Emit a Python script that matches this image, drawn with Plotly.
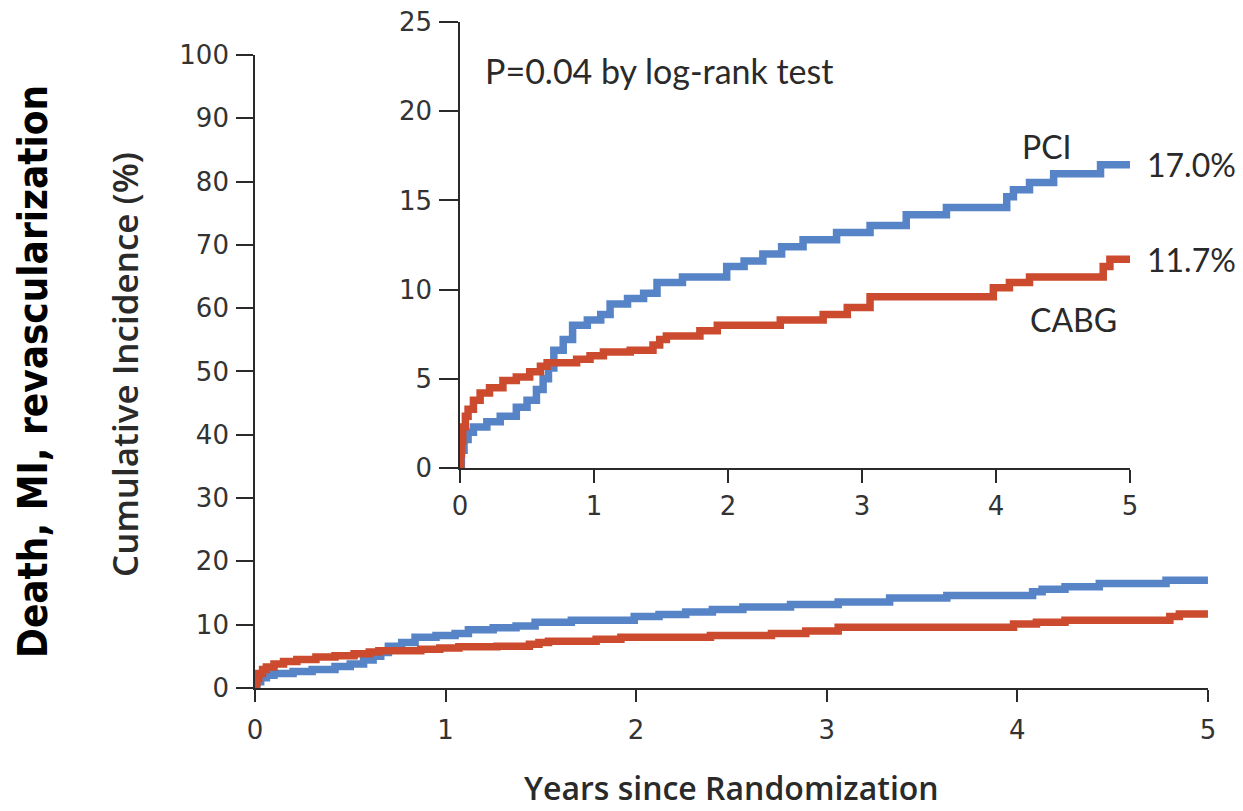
import plotly.graph_objects as go

# Kaplan-Meier style cumulative incidence, step knots (years, percent)
pci_years = [0, 0.01, 0.03, 0.06, 0.10, 0.20, 0.30, 0.42, 0.50, 0.57, 0.62, 0.66,
             0.70, 0.77, 0.84, 0.95, 1.05, 1.12, 1.25, 1.37, 1.47, 1.66, 1.99,
             2.12, 2.26, 2.40, 2.56, 2.81, 3.06, 3.33, 3.63, 4.08, 4.13, 4.25,
             4.43, 4.78, 5.0]
pci_pct = [0, 1.0, 1.6, 2.0, 2.3, 2.6, 2.9, 3.4, 3.8, 4.4, 5.0, 5.6,
           6.6, 7.2, 8.0, 8.3, 8.6, 9.2, 9.5, 9.8, 10.4, 10.7, 11.3,
           11.6, 12.0, 12.4, 12.8, 13.2, 13.6, 14.2, 14.6, 15.2, 15.6, 16.0,
           16.5, 17.0, 17.0]

cabg_years = [0, 0.005, 0.01, 0.02, 0.04, 0.06, 0.10, 0.15, 0.22, 0.32, 0.42,
              0.52, 0.60, 0.65, 0.87, 0.97, 1.07, 1.27, 1.44, 1.49, 1.54, 1.79,
              1.92, 2.39, 2.71, 2.89, 3.06, 3.98, 4.10, 4.25, 4.80, 4.85, 5.0]
cabg_pct = [0, 0.8, 1.5, 2.3, 2.9, 3.3, 3.8, 4.2, 4.5, 4.9, 5.1,
            5.4, 5.7, 5.9, 6.1, 6.3, 6.5, 6.6, 6.9, 7.2, 7.4, 7.7,
            8.0, 8.3, 8.6, 9.0, 9.6, 10.1, 10.4, 10.7, 11.3, 11.7, 11.7]

year_ticks = [0, 1, 2, 3, 4, 5]
main_pct_ticks = list(range(0, 101, 10))
inset_pct_ticks = [0, 5, 10, 15, 20, 25]

BLUE = "#5784C7"
RED = "#CC4A2D"
INK = "#2a2a2a"
TICK_FONT = dict(family="DejaVu Sans", size=26, color="#333333")
TEXT_FONT = "Lato"

fig = go.Figure()

# main panel (0-100 %) and inset (0-25 %) share the same curves
for xa, ya in (("x", "y"), ("x2", "y2")):
    fig.add_trace(go.Scatter(x=pci_years, y=pci_pct, mode="lines",
                             line=dict(color=BLUE, width=7.5, shape="hv"),
                             xaxis=xa, yaxis=ya, showlegend=False,
                             hoverinfo="skip"))
    fig.add_trace(go.Scatter(x=cabg_years, y=cabg_pct, mode="lines",
                             line=dict(color=RED, width=7.5, shape="hv"),
                             xaxis=xa, yaxis=ya, showlegend=False,
                             hoverinfo="skip"))

axis_common = dict(showline=True, linecolor=INK, linewidth=1.6, ticks="outside",
                   tickcolor=INK, tickwidth=1.6, showgrid=False, zeroline=False,
                   tickfont=TICK_FONT, fixedrange=True, automargin=False)

fig.update_layout(
    width=1243, height=811,
    margin=dict(l=0, r=0, t=0, b=0),
    paper_bgcolor="white", plot_bgcolor="rgba(0,0,0,0)",
    xaxis=dict(domain=[0.2051, 0.9718], range=[0, 5], tickvals=year_ticks,
               ticklen=12, ticklabelstandoff=6, anchor="y", **axis_common),
    yaxis=dict(domain=[0.1517, 0.9322], range=[0, 100], tickvals=main_pct_ticks,
               ticklen=17, ticklabelstandoff=2, anchor="x", **axis_common),
    xaxis2=dict(domain=[0.3701, 0.9091], range=[0, 5], tickvals=year_ticks,
                ticklen=13, ticklabelstandoff=1, anchor="y2", **axis_common),
    yaxis2=dict(domain=[0.4229, 0.9729], range=[0, 25], tickvals=inset_pct_ticks,
                ticklen=19, ticklabelstandoff=2, anchor="x2", **axis_common),
)

label_font = dict(family=TEXT_FONT, size=32, color=INK)
fig.add_annotation(x=0.035, y=22.3, xref="x2 domain", yref="y2", xanchor="left",
                   yanchor="middle", text="P=0.04 by log-rank test", showarrow=False,
                   font=dict(family=TEXT_FONT, size=34, color=INK))
fig.add_annotation(x=4.38, y=18.0, xref="x2", yref="y2",
                   text="PCI", showarrow=False, font=label_font)
fig.add_annotation(x=4.58, y=8.3, xref="x2", yref="y2",
                   text="CABG", showarrow=False, font=label_font)
# end-of-follow-up rates written next to the curve ends
fig.add_annotation(x=1.022, y=pci_pct[-1], xref="x2 domain", yref="y2", xanchor="left",
                   text=f"{pci_pct[-1]:.1f}%", showarrow=False, font=label_font)
fig.add_annotation(x=1.022, y=cabg_pct[-1], xref="x2 domain", yref="y2", xanchor="left",
                   text=f"{cabg_pct[-1]:.1f}%", showarrow=False, font=label_font)

# axis titles
fig.add_annotation(x=0.5, y=-0.158, xref="x domain", yref="y domain",
                   xanchor="center", yanchor="middle",
                   text="Years since Randomization", showarrow=False,
                   font=dict(family="Open Sans", size=32, color=INK, weight=600))
fig.add_annotation(x=0.1006, y=0.55, xref="paper", yref="paper", textangle=-90,
                   xanchor="center", yanchor="middle",
                   text="Cumulative Incidence (%)", showarrow=False,
                   font=dict(family="Open Sans", size=35, color=INK, weight=600))
fig.add_annotation(x=0.0265, y=0.5425, xref="paper", yref="paper", textangle=-90,
                   xanchor="center", yanchor="middle",
                   text="Death, MI, revascularization", showarrow=False,
                   font=dict(family="DejaVu Sans Condensed, Liberation Sans",
                             size=40, color="black", weight=700))

fig.write_html("out.html")
